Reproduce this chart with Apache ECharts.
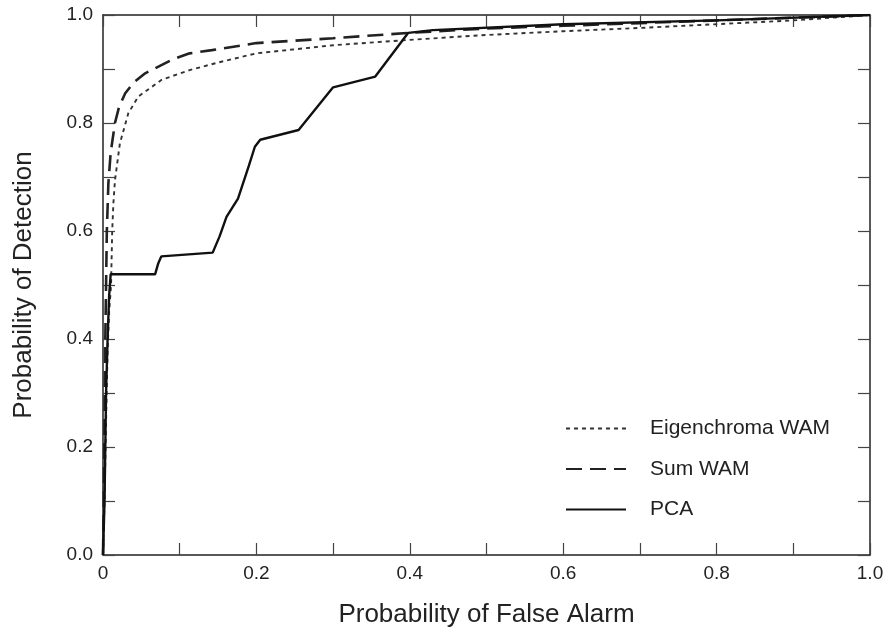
<!DOCTYPE html>
<html>
<head>
<meta charset="utf-8">
<script src="https://cdn.jsdelivr.net/npm/echarts@6/dist/echarts.min.js"></script>
<style>html,body{margin:0;padding:0;background:#fff}#c{width:888px;height:632px}</style>
</head>
<body>
<div id="c"></div>
<script>
var seriesNames = ['Eigenchroma WAM', 'Sum WAM', 'PCA'];
var xTickLabels = ['0', '0.2', '0.4', '0.6', '0.8', '1.0'];
var yTickLabels = ['0.0', '0.2', '0.4', '0.6', '0.8', '1.0'];
var eigenchroma = [[0,0],[0.002,0.1],[0.004,0.25],[0.006,0.38],[0.008,0.45],[0.0105,0.5],[0.012,0.6],[0.0135,0.65],[0.0156,0.694],[0.022,0.762],[0.033,0.818],[0.046,0.849],[0.0765,0.88],[0.113,0.898],[0.15,0.912],[0.2,0.929],[0.3,0.944],[0.4,0.954],[0.5,0.963],[0.6,0.97],[0.7,0.976],[0.8,0.983],[0.9,0.99],[1,1]];
var sumWam = [[0,0],[0.001,0.1],[0.002,0.25],[0.003,0.4],[0.004,0.5],[0.005,0.6],[0.007,0.688],[0.01,0.745],[0.0156,0.8],[0.021,0.83],[0.029,0.855],[0.04,0.875],[0.055,0.892],[0.0895,0.917],[0.113,0.929],[0.142,0.935],[0.2,0.948],[0.3,0.957],[0.4,0.967],[0.5,0.975],[0.6,0.98],[0.7,0.985],[0.8,0.99],[0.9,0.995],[1,1]];
var pca = [[0,0],[0.002,0.1],[0.004,0.3],[0.006,0.4],[0.008,0.48],[0.01,0.52],[0.068,0.52],[0.072,0.54],[0.076,0.553],[0.143,0.56],[0.152,0.59],[0.161,0.626],[0.176,0.66],[0.19,0.72],[0.198,0.756],[0.205,0.769],[0.255,0.787],[0.3,0.866],[0.355,0.886],[0.398,0.967],[0.43,0.972],[0.6,0.983],[0.8,0.99],[1,1]];

var font = 'Liberation Sans, Arial, sans-serif';
var axisColor = '#222';
function fmt(labels) {
  return function (v) {
    var i = Math.round(v * 10);
    if (i % 2 !== 0) return '';
    return labels[i / 2];
  };
}
function baseAxis(extra) {
  return Object.assign({
    type: 'value', min: 0, max: 1, interval: 0.1,
    splitLine: { show: false },
    axisLine: { show: true, onZero: false, lineStyle: { color: axisColor, width: 1.5 } },
    axisTick: { show: true, inside: true, length: 12, lineStyle: { color: '#444', width: 1.2 } }
  }, extra);
}
var chart = echarts.init(document.getElementById('c'));
chart.setOption({
  animation: false,
  backgroundColor: '#fff',
  grid: { left: 103, right: 18, top: 15, bottom: 77, containLabel: false, outerBoundsMode: 'none' },
  legend: {
    orient: 'vertical', left: 560, top: 411,
    itemWidth: 60, itemHeight: 14, itemGap: 15.5,
    data: seriesNames,
    itemStyle: { opacity: 0 },
    textStyle: { fontFamily: font, fontSize: 21, lineHeight: 25, color: '#222', padding: [0, 0, 0, 19] }
  },
  xAxis: [
    baseAxis({
      position: 'bottom',
      name: 'Probability of False Alarm', nameLocation: 'middle', nameGap: 47, nameMoveOverlap: false,
      nameTextStyle: { fontFamily: font, fontSize: 26, color: '#222' },
      axisLabel: { formatter: fmt(xTickLabels), fontFamily: font, fontSize: 19, color: '#222', margin: 9 }
    }),
    baseAxis({ position: 'top', axisLabel: { show: false } })
  ],
  yAxis: [
    baseAxis({
      position: 'left',
      name: 'Probability of Detection', nameLocation: 'middle', nameGap: 66, nameMoveOverlap: false,
      nameTextStyle: { fontFamily: font, fontSize: 26, color: '#222' },
      axisLabel: { formatter: fmt(yTickLabels), fontFamily: font, fontSize: 19, color: '#222', margin: 10 }
    }),
    baseAxis({ position: 'right', axisLabel: { show: false } })
  ],
  series: [
    { name: seriesNames[0], type: 'line', data: eigenchroma, symbol: 'none',
      lineStyle: { color: '#333', width: 1.9, type: [4, 4] }, itemStyle: { color: '#333' } },
    { name: seriesNames[1], type: 'line', data: sumWam, symbol: 'none',
      lineStyle: { color: '#222', width: 2.6, type: [16, 8] }, itemStyle: { color: '#222' } },
    { name: seriesNames[2], type: 'line', data: pca, symbol: 'none',
      lineStyle: { color: '#111', width: 2.4, type: 'solid' }, itemStyle: { color: '#111' } }
  ]
});
</script>
</body>
</html>
